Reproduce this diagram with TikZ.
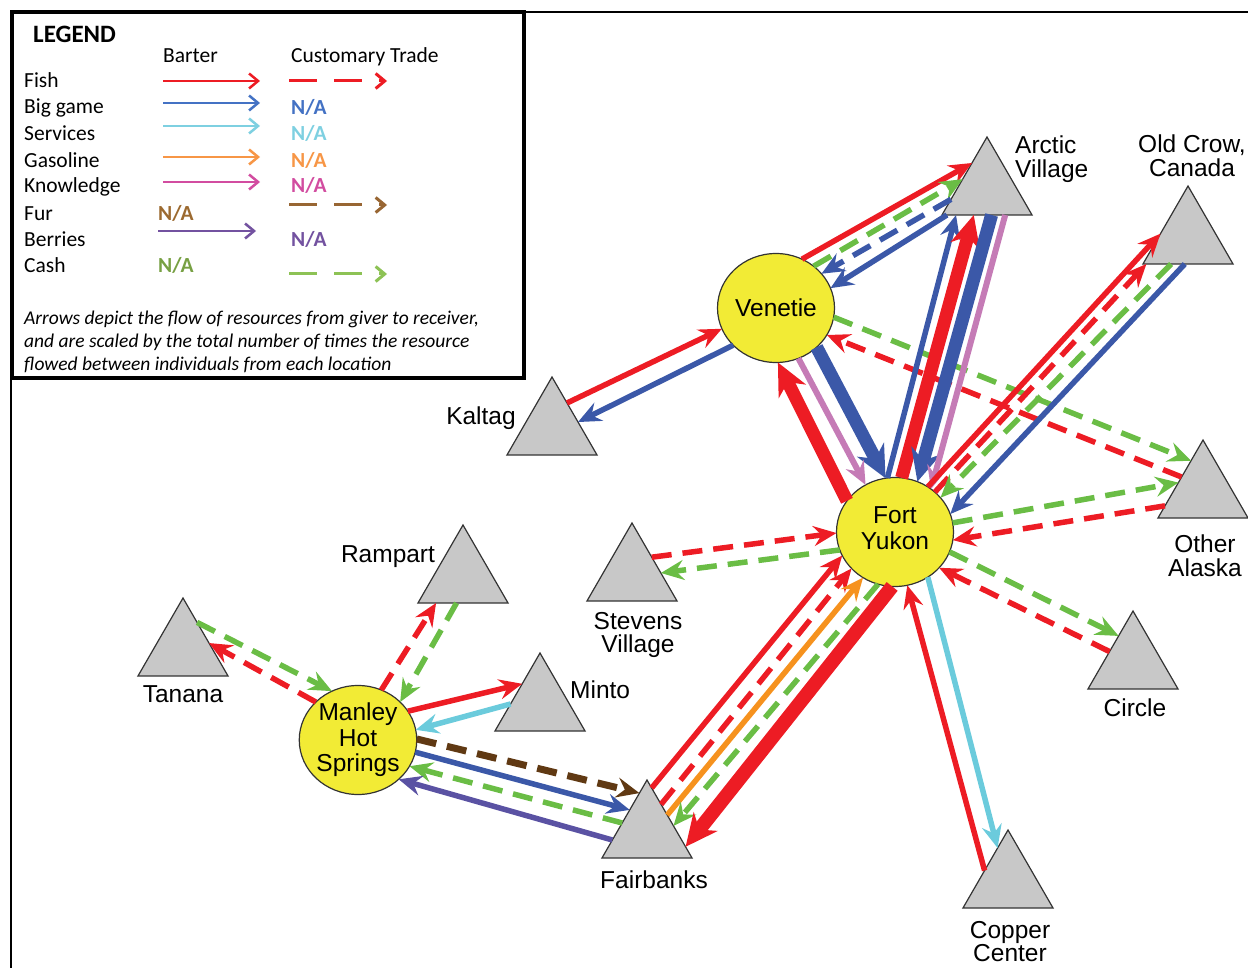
\documentclass[tikz,border=0pt]{standalone}
\usepackage{fontspec}
\setmainfont{Liberation Sans}
\newfontfamily\keyfont{Carlito}
\usetikzlibrary{arrows.meta,shapes.geometric}

\definecolor{fishred}{RGB}{237,28,36}
\definecolor{gameblue}{RGB}{59,88,168}
\definecolor{servcyan}{RGB}{107,203,220}
\definecolor{gasorange}{RGB}{246,146,30}
\definecolor{knowmauve}{RGB}{197,123,182}
\definecolor{furbrown}{RGB}{96,57,19}
\definecolor{berrypurple}{RGB}{90,82,163}
\definecolor{cashgreen}{RGB}{106,189,69}
\definecolor{townyellow}{RGB}{242,235,53}
\definecolor{villagegray}{RGB}{200,200,200}
\definecolor{edgegray}{RGB}{51,51,51}
% legend shades
\definecolor{keyblue}{RGB}{68,114,196}
\definecolor{keycyan}{RGB}{126,208,225}
\definecolor{keyorange}{RGB}{247,150,70}
\definecolor{keypink}{RGB}{210,76,160}
\definecolor{keybrown}{RGB}{152,102,51}
\definecolor{keypurple}{RGB}{115,82,160}
\definecolor{keygreen}{RGB}{141,194,85}
\definecolor{nabrown}{RGB}{156,106,48}
\definecolor{nagreen}{RGB}{119,160,67}

\tikzset{
  town/.style={ellipse, draw=edgegray, line width=1.2pt, fill=townyellow,
    minimum width=117pt, minimum height=109pt, inner sep=0pt, outer sep=0pt,
    align=center, font=\fontsize{24.5}{25.5}\selectfont},
  village/.style={regular polygon, regular polygon sides=3, draw=edgegray,
    line width=1.2pt, fill=villagegray, minimum size=104pt, inner sep=0pt, outer sep=0pt},
  place/.style={inner sep=0pt, align=center, font=\fontsize{24.5}{23.5}\selectfont},
  flow/.style={line width=5.5pt, -{Stealth[length=23pt,width=20pt,inset=8pt]}},
  bigflow/.style={line width=13pt, -{Stealth[length=32pt,width=30pt,inset=10pt]}},
  trade/.style={dash pattern=on 20pt off 11pt},
  keyarrow/.style={line width=2.5pt, -{Straight Barb[length=9pt,width=15pt]}},
  keytext/.style={inner sep=0pt, anchor=base west, font=\keyfont\fontsize{21.5}{26}\selectfont},
  keyna/.style={keytext, font=\keyfont\bfseries\fontsize{21.5}{26}\selectfont},
}

\begin{document}
\begin{tikzpicture}[x=1pt, y=-1pt]
  \useasboundingbox (0,0) rectangle (1248,968);

  % frame and legend
  \draw[line width=2pt] (11,968) -- (11,12) -- (1248,12);
  \draw[line width=3.5pt, fill=white] (12,12) rectangle (524,378);
  \node[keytext, font=\keyfont\bfseries\fontsize{25}{30}\selectfont] (legend) at (33,43) {LEGEND};
  \node[keytext] (barter) at (163,63) {Barter};
  \node[keytext] (custom) at (291,63) {Customary Trade};
  \foreach \name/\y [count=\i] in {Fish/88, Big game/114, Services/141, Gasoline/168,
      Knowledge/193, Fur/221, Berries/247, Cash/273}
    \node[keytext] (row\i) at (24,\y) {\name};
  \foreach \col/\y in {fishred/81, keyblue/103, keycyan/126, keyorange/157, keypink/182}
    \draw[keyarrow, \col] (163,\y) -- (260,\y);
  \draw[keyarrow, keypurple] (158,231) -- (256,231);
  \foreach \col/\y in {fishred/81, keybrown/205, keygreen/274}
    \draw[keyarrow, \col, line width=3pt, dash pattern=on 28pt off 17pt] (289,\y) -- (387,\y);
  \foreach \col/\y [count=\i] in {keyblue/115, keycyan/141, keyorange/168, keypink/193, keypurple/247}
    \node[keyna, text=\col] (na\i) at (291,\y) {N/A};
  \node[keyna, text=nabrown] (nafur) at (158,221) {N/A};
  \node[keyna, text=nagreen] (nacash) at (158,273) {N/A};
  \node[keytext, anchor=north west, align=left,
    font=\keyfont\itshape\fontsize{19.5}{23}\selectfont] (note) at (24,311)
    {Arrows depict the flow of resources from giver to receiver,\\
     and are scaled by the total number of times the resource\\
     flowed between individuals from each location};

  % villages
  \node[village] (arc) at (987,189) {};
  \node[village] (old) at (1188,238) {};
  \node[village] (oth) at (1203,492) {};
  \node[village] (cir) at (1133,663) {};
  \node[village] (cop) at (1008,882) {};
  \node[village] (fai) at (647,832) {};
  \node[village] (stv) at (632,575) {};
  \node[village] (min) at (540,705) {};
  \node[village] (ram) at (463,577) {};
  \node[village] (tan) at (183,650) {};
  \node[village] (kal) at (552,429) {};

  % towns
  \node[town] (ven) at (776,308) {Venetie};
  \node[town] (fy)  at (895,532) {Fort\\Yukon\strut};
  \node[town] (mhs) at (358,740) {Manley\\Hot\\Springs};

  % village names
  \node[place, anchor=north west, align=left] (arcname) at (1015,136) {Arctic\\Village};
  \node[place, anchor=north] (oldname) at (1192,135) {Old Crow,\\Canada};
  \node[place, anchor=north] (othname) at (1205,535) {Other\\Alaska};
  \node[place, anchor=north] (cirname) at (1135,699) {Circle};
  \node[place, anchor=north] (copname) at (1010,921) {Copper\\Center};
  \node[place, anchor=north] (fainame) at (654,871) {Fairbanks};
  \node[place, anchor=north] (stvname) at (638,612) {Stevens\\Village};
  \node[place, anchor=north west] (minname) at (570,681) {Minto};
  \node[place, anchor=north] (ramname) at (388,545) {Rampart};
  \node[place, anchor=north] (tanname) at (183,685) {Tanana};
  \node[place, anchor=north] (kalname) at (481,407) {Kaltag};

  % Venetie
  \draw[flow, fishred] (ven.62) -- (arc.120);
  \draw[flow, trade, cashgreen] (ven.48) -- (arc.158);
  \draw[flow, trade, gameblue] (arc.196) -- (ven.37);
  \draw[flow, gameblue] (arc.213) -- (ven.20);
  \draw[flow, fishred] (kal.60) -- (ven.201);
  \draw[flow, gameblue] (ven.221) -- (kal.15);
  \draw[flow, trade, cashgreen] (ven.-9) -- (oth.111);
  \draw[flow, trade, fishred] (oth.145) -- (ven.-28);
  \draw[bigflow, gameblue] (ven.-44) -- (fy.100);
  \draw[flow, knowmauve, line width=6pt] (ven.-66) -- (fy.122);
  \draw[bigflow, fishred] (fy.147) -- (ven.-88);

  % Fort Yukon
  \draw[flow, gameblue] (fy.98) -- (arc.220);
  \draw[bigflow, fishred] (fy.83) -- (arc.243);
  \draw[bigflow, gameblue] (arc.280) -- (fy.66);
  \draw[flow, knowmauve, line width=6pt] (arc.305) -- (fy.50);
  \draw[flow, fishred] (fy.54) -- (old.171);
  \draw[flow, trade, fishred] (fy.45) -- (old.212);
  \draw[flow, trade, cashgreen] (old.237) -- (fy.37);
  \draw[flow, gameblue] (old.263) -- (fy.18);
  \draw[flow, trade, cashgreen] (fy.9) -- (oth.159);
  \draw[flow, trade, fishred] (oth.200) -- (fy.-8);
  \draw[flow, trade, cashgreen] (fy.-20) -- (cir.118);
  \draw[flow, trade, fishred] (cir.154) -- (fy.-39);
  \draw[flow, fishred] (cop.154) -- (fy.-77);
  \draw[flow, servcyan] (fy.-54) -- (cop.107);
  \draw[flow, trade, fishred] (stv.42) -- (fy.181);
  \draw[flow, trade, cashgreen] (fy.198) -- (stv.4);
  \draw[flow, fishred] (fai.84) -- (fy.204);
  \draw[flow, trade, fishred] (fai.63) -- (fy.220);
  \draw[flow, gasorange] (fai.40) -- (fy.235);
  \draw[flow, trade, cashgreen] (fy.252) -- (fai.13);
  \draw[bigflow, fishred, line width=14pt] (fy.267) -- (fai.-21);

  % Manley Hot Springs
  \draw[flow, trade, fishred] (mhs.138) -- (tan.15);
  \draw[flow, trade, cashgreen] (tan.63) -- (mhs.118);
  \draw[flow, trade, fishred] (mhs.65) -- (ram.224);
  \draw[flow, trade, cashgreen] (ram.256) -- (mhs.42);
  \draw[flow, fishred] (mhs.30) -- (min.130);
  \draw[flow, servcyan] (min.178) -- (mhs.10);
  \draw[flow, trade, furbrown, line width=7pt] (mhs.1) -- (fai.101);
  \draw[flow, gameblue] (mhs.-12) -- (fai.128);
  \draw[flow, trade, cashgreen] (fai.160) -- (mhs.-27);
  \draw[flow, berrypurple] (fai.193) -- (mhs.-44);
\end{tikzpicture}
\end{document}
